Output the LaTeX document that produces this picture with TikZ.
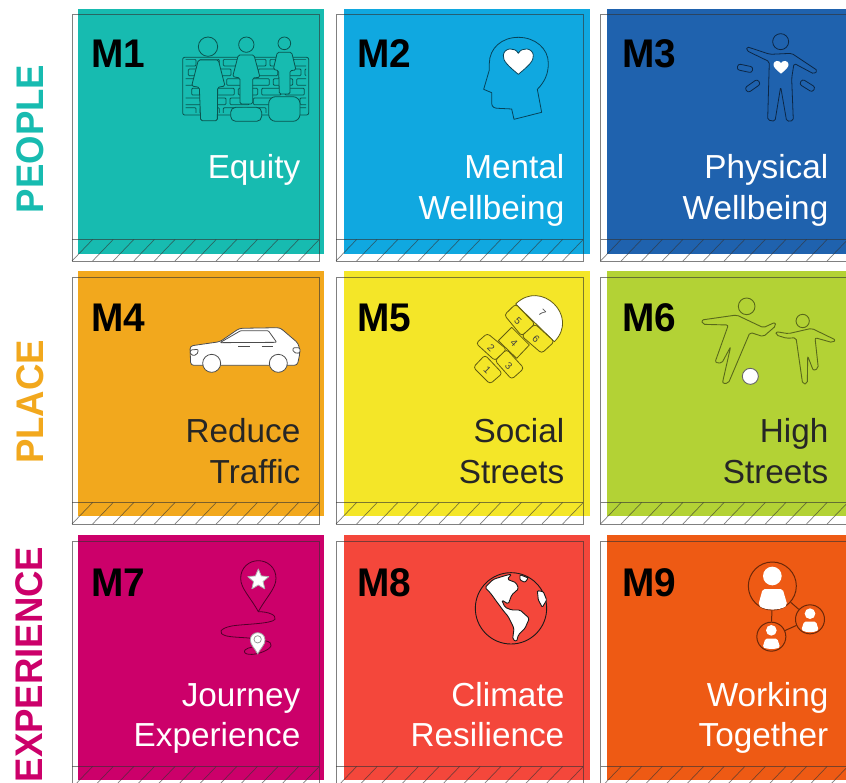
\documentclass[tikz,border=0pt]{standalone}
\usepackage{fontspec}
\setmainfont{Liberation Sans}
\newfontfamily\boldf[FakeStretch=.97]{Liberation Sans Bold}
\newfontfamily\rowf[FakeStretch=.95]{Liberation Sans Bold}
\usetikzlibrary{shapes.geometric}
\definecolor{cA}{HTML}{17BBB0}\definecolor{cB}{HTML}{10A8E0}\definecolor{cC}{HTML}{1F62AE}
\definecolor{cD}{HTML}{F2A81D}\definecolor{cE}{HTML}{F4E628}\definecolor{cF}{HTML}{B3D235}
\definecolor{cG}{HTML}{CC006A}\definecolor{cH}{HTML}{F4473B}\definecolor{cI}{HTML}{EE5A14}
\definecolor{frameC}{HTML}{333333}
\tikzset{
  framepen/.style={draw=frameC,line width=.9pt,draw opacity=.62},
  numlabel/.style={font=\boldf\fontsize{40}{40}\selectfont,text=black,anchor=base west,inner sep=0pt},
  textlabel/.style={font=\fontsize{33.3}{33.3}\selectfont,anchor=base east,inner sep=0pt},
  rowlabel/.style={font=\rowf\fontsize{38.5}{38.5}\selectfont,rotate=90,inner sep=0pt,anchor=base},
  iconpen/.style={line width=.8pt,line join=round},
  zoomed/.style={x=.33333pt,y=-.33333pt},
  hopnum/.style={font=\fontsize{10}{10}\selectfont,rotate=-45,inner sep=0pt,text=black!75},
}
% x y colour name baseline framedrop frameleft numx
\newcommand{\cellbox}[8]{%
  \fill[#3] (#1,#2) rectangle ++(246,245);
  \begin{scope}[shift={(#1,#2)}]
    \draw[framepen] (#7,#6) rectangle (#7+247,#6+247);
    \draw[framepen] (#7,#6+225.5) -- (#7+247,#6+225.5);
    \foreach \k in {0,...,11}{\draw[framepen,line width=.7pt] ({#7+\k*20.6},#6+247) -- ({#7+(\k+1)*20.6},#6+225.5);}
    \node[numlabel] (#4) at (#8,#5) {#4};
  \end{scope}}
\newcommand{\heartshape}{(0,40) .. controls (-30,15) and (-47,0) .. (-45,-17) .. controls (-43,-40) and (-10,-43) .. (0,-23) .. controls (10,-43) and (43,-40) .. (45,-17) .. controls (47,0) and (30,15) .. (0,40) -- cycle}
\begin{document}
\begin{tikzpicture}[x=1pt,y=-1pt]
\useasboundingbox (0,0) rectangle (846,783);
\clip (0,0) rectangle (846,783);
\fill[white] (0,0) rectangle (846,783);

\cellbox{78}{9}{cA}{M1}{59}{5}{-6}{13}
\cellbox{344}{9}{cB}{M2}{59}{5}{-8}{13}
\cellbox{607}{9}{cC}{M3}{59}{5}{-6.5}{15}
\cellbox{78}{271}{cD}{M4}{61}{6}{-6}{13}
\cellbox{344}{271}{cE}{M5}{61}{6}{-8}{13}
\cellbox{607}{271}{cF}{M6}{61}{6}{-6.5}{15}
\cellbox{78}{535}{cG}{M7}{61}{6}{-6}{13}
\cellbox{344}{535}{cH}{M8}{61}{6}{-8}{13}
\cellbox{607}{535}{cI}{M9}{61}{6}{-6.5}{15}

\node[rowlabel,text=cA] (rowpeople) at (43,139) {PEOPLE};
\node[rowlabel,text=cD] (rowplace) at (43,402) {PLACE};
\node[rowlabel,text=cG] (rowexp) at (42,664.5) {EXPERIENCE};

\node[textlabel,text=white] (t1a) at (300.5,178.5) {Equity};
\node[textlabel,text=white] (t2a) at (564.5,178.5) {Mental};
\node[textlabel,text=white] (t2b) at (564.5,219.5) {Wellbeing};
\node[textlabel,text=white] (t3a) at (828.5,178.5) {Physical};
\node[textlabel,text=white] (t3b) at (828.5,219.5) {Wellbeing};
\node[textlabel,text=black!85] (t4a) at (300.5,442.5) {Reduce};
\node[textlabel,text=black!85] (t4b) at (300.5,483) {Traffic};
\node[textlabel,text=black!85] (t5a) at (564.5,442.5) {Social};
\node[textlabel,text=black!85] (t5b) at (564.5,483) {Streets};
\node[textlabel,text=black!85] (t6a) at (828.5,442.5) {High};
\node[textlabel,text=black!85] (t6b) at (828.5,483) {Streets};
\node[textlabel,text=white] (t7a) at (300.5,706) {Journey};
\node[textlabel,text=white] (t7b) at (300.5,746.5) {Experience};
\node[textlabel,text=white] (t8a) at (564.5,706) {Climate};
\node[textlabel,text=white] (t8b) at (564.5,746.5) {Resilience};
\node[textlabel,text=white] (t9a) at (828.5,706) {Working};
\node[textlabel,text=white] (t9b) at (828.5,746.5) {Together};

% M1 icon
\begin{scope}[shift={(70,0)},zoomed,iconpen,draw=black!55!cA]
  \draw[rounded corners=2pt,fill=cA] (338,172) rectangle (716,345);
  \begin{scope}
    \clip (347,178) rectangle (708,338);
    \foreach \yy/\xo in {178/0,207/35,236/10,265/45,294/20,323/0}{
      \foreach \n in {0,...,5}{
        \draw[rounded corners=1pt] ({320+\xo+\n*70},\yy) rectangle ++(58,20);
      }
    }
  \end{scope}
  \draw[fill=cA,rounded corners=1.5pt] (385,180) -- (445,180) -- (465,258) -- (443,262) -- (442,362) -- (392,362) -- (388,262) -- (365,258) -- cycle;
  \draw[fill=cA] (414,140) circle[radius=29];
  \draw[fill=cA,rounded corners=1.5pt] (505,165) -- (552,165) -- (570,232) -- (548,234) -- (548,312) -- (510,312) -- (510,234) -- (488,230) -- cycle;
  \draw[fill=cA] (529,134) circle[radius=23];
  \draw[fill=cA,rounded corners=1.5pt] (622,157) -- (665,157) -- (678,210) -- (660,212) -- (660,282) -- (628,282) -- (626,212) -- (610,208) -- cycle;
  \draw[fill=cA] (643,130) circle[radius=19];
  \draw[fill=cA,rounded corners=5pt] (482,322) rectangle (575,364);
  \draw[fill=cA,rounded corners=7pt] (596,290) rectangle (690,364);
\end{scope}

% M2 icon
\begin{scope}[shift={(440,20)},zoomed,iconpen,draw=black!60!cB]
  \draw (222,298) -- (305,277) -- (292,208) .. controls (315,185) and (325,160) .. (325,130)
    .. controls (325,85) and (285,52) .. (235,52) .. controls (185,52) and (148,85) .. (148,130)
    -- (148,150) -- (131,208) -- (155,218) -- (155,250) .. controls (155,262) and (165,265) .. (175,265) -- (215,267) -- cycle;
  \fill[white,draw=black!60!cB,shift={(235,123)}] \heartshape;
\end{scope}

% M3 icon
\begin{scope}[shift={(440,20)},zoomed,iconpen,draw=black!60!cC]
  \draw (1022,65) circle[radius=24];
  \draw[rounded corners=1.8pt] (920,80) -- (990,103) -- (1055,100) -- (1133,152) -- (1122,162) -- (1062,130) -- (1055,175) -- (1060,302) -- (1040,304) -- (1022,200) -- (1005,304) -- (983,300) -- (988,125) -- (920,92) -- cycle;
  \fill[white,shift={(1023,141)},scale=.5] \heartshape;
  \draw[rounded corners=2.5pt,rotate around={-12:(915,145)}] (892,136) rectangle (938,154);
  \draw[rounded corners=2.5pt,rotate around={35:(938,198)}] (915,189) rectangle (961,207);
  \draw[rounded corners=2.5pt,rotate around={-32:(1102,197)}] (1079,188) rectangle (1125,206);
\end{scope}

% M4 icon
\begin{scope}[shift={(170,290)},zoomed,iconpen,draw=black!70]
  \draw[fill=white,rounded corners=3pt] (62,226) -- (60,168) -- (150,155) -- (208,115) -- (330,113) -- (385,160) -- (390,188) -- (382,226) -- cycle;
  \draw[rounded corners=1pt] (150,158) -- (212,122) -- (295,122) -- (320,157) -- cycle;
  \draw (205,170) -- (240,170) (275,170) -- (310,170);
  \draw[fill=white,rounded corners=2pt] (60,180) -- (86,178) -- (80,196) -- (62,196) -- cycle;
  \draw[fill=white,rounded corners=2pt] (368,173) -- (390,173) -- (390,190) -- (370,188) -- cycle;
  \draw[fill=white] (125,220) circle[radius=27];
  \draw[fill=white] (325,220) circle[radius=27];
\end{scope}

% M5 icon
\begin{scope}[shift={(170,290)},zoomed,iconpen,draw=black!60!cE]
  \draw[fill=white] (1037,42) .. controls (1113,-34) and (1229,79) .. (1153,155) -- cycle;
  \draw[rounded corners=3pt,fill=cE] (1037,42) -- (1003,75) -- (1055,138) -- (1095,102) -- cycle;
  \draw[rounded corners=3pt,fill=cE] (1095,102) -- (1055,138) -- (1115,190) -- (1153,155) -- cycle;
  \draw[fill=cE] (1025,112) -- (985,152) -- (1040,205) -- (1078,165) -- cycle;
  \draw[rounded corners=3pt,fill=cE] (952,130) -- (918,160) -- (975,212) -- (1010,178) -- cycle;
  \draw[rounded corners=3pt,fill=cE] (945,195) -- (910,232) -- (960,282) -- (997,250) -- cycle;
  \draw[rounded corners=3pt,fill=cE] (1010,178) -- (975,212) -- (1025,268) -- (1062,235) -- cycle;
  \node[hopnum] (h1) at (952,240) {1};
  \node[hopnum] (h2) at (963,175) {2};
  \node[hopnum] (h3) at (1016,228) {3};
  \node[hopnum] (h4) at (1032,160) {4};
  \node[hopnum] (h5) at (1044,92) {5};
  \node[hopnum] (h6) at (1098,147) {6};
  \node[hopnum] (h7) at (1117,70) {7};
\end{scope}

% M6 icon
\begin{scope}[shift={(690,285)},zoomed,iconpen,draw=black!50!cF,line width=.9pt]
  \draw (170,64) circle[radius=25];
  \draw[rounded corners=2pt] (35,105) -- (140,90) -- (220,128) -- (255,112) -- (258,122) -- (220,155) -- (180,142) -- (115,295) -- (97,295) -- (122,185) -- (95,235) -- (75,232) -- (115,120) -- (38,118) -- cycle;
  \draw[fill=white,draw=black!60] (181,274) circle[radius=24];
  \draw (338,108) circle[radius=20];
  \draw[rounded corners=2pt] (258,140) -- (295,146) -- (365,130) -- (437,165) -- (428,173) -- (375,158) -- (385,250) -- (370,257) -- (353,213) -- (352,296) -- (338,297) -- (318,158) -- (290,160) -- (258,150) -- cycle;
\end{scope}

% M7 icon
\begin{scope}[shift={(200,550)},zoomed,iconpen,draw=black!60!cG]
  \draw (175,185) .. controls (150,140) and (122,115) .. (122,85) .. controls (122,52) and (148,32) .. (175,32)
     .. controls (202,32) and (228,52) .. (228,85) .. controls (228,115) and (200,140) .. (175,185) -- cycle;
  \node[star,star points=5,star point ratio=2.2,fill=white,draw=black!30,minimum size=22pt,inner sep=0pt] (star) at (175,90) {};
  \draw (175,185) .. controls (205,185) and (230,195) .. (225,208) .. controls (215,222) and (130,222) .. (95,228)
     .. controls (60,235) and (50,250) .. (80,258) .. controls (105,263) and (140,262) .. (160,266);
  \draw (195,272) .. controls (225,278) and (215,295) .. (190,305) .. controls (160,318) and (125,315) .. (135,300) .. controls (140,295) and (148,293) .. (155,292);
  \draw[fill=white,draw=black!35] (173,312) .. controls (165,295) and (151,285) .. (151,270) .. controls (151,256) and (162,248) .. (173,248)
     .. controls (184,248) and (195,256) .. (195,270) .. controls (195,285) and (181,295) .. (173,312) -- cycle;
  \draw[draw=black!40] (173,268) circle[radius=11];
\end{scope}

% M8 icon
\begin{scope}[shift={(200,550)},zoomed,iconpen,draw=black!90,line width=.9pt]
  \draw (933,175) circle[radius=107];
  \draw[fill=white,rounded corners=1.5pt] (855,112) -- (880,88) -- (915,77) -- (935,72) -- (922,88) -- (948,98) -- (956,116) -- (935,135) -- (925,162) -- (905,150) -- (915,172) -- (935,180) -- (960,180) -- (988,205) -- (975,235) -- (955,255) -- (950,275) -- (938,268) -- (942,235) -- (925,200) -- (910,182) -- (890,155) -- (872,130) -- cycle;
  \draw[fill=white,rounded corners=1pt] (960,74) -- (985,84) -- (975,97) -- (960,90) -- cycle;
  \draw[fill=white,rounded corners=1pt] (1012,122) -- (1030,125) -- (1040,150) -- (1027,172) -- (1015,150) -- cycle;
\end{scope}

% M9 icon
\begin{scope}[shift={(730,550)},zoomed,iconpen]
  \tikzset{hub/.style={circle,draw=black!55!cI,line width=1pt,inner sep=0pt}}
  \node[hub,minimum size=48pt] (big) at (127,108) {};
  \node[hub,minimum size=29pt] (sideR) at (240,208) {};
  \node[hub,minimum size=29pt] (sideB) at (124,260) {};
  \draw[draw=black!55!cI,line width=1pt] (big) -- (sideR) (big) -- (sideB) (sideR) -- (sideB);
  \fill[white] (127,78) circle[radius=28];
  \fill[white,rounded corners=2pt] (98,117) -- (158,117) -- (172,165) .. controls (150,182) and (105,182) .. (85,165) -- cycle;
  \fill[white] (240,191) circle[radius=16];
  \fill[white,rounded corners=1.5pt] (222,215) -- (258,215) -- (266,240) .. controls (250,248) and (230,248) .. (214,240) -- cycle;
  \fill[white] (124,241) circle[radius=16];
  \fill[white,rounded corners=1.5pt] (106,266) -- (142,266) -- (150,292) .. controls (135,298) and (115,298) .. (98,292) -- cycle;
\end{scope}
\end{tikzpicture}
\end{document}
